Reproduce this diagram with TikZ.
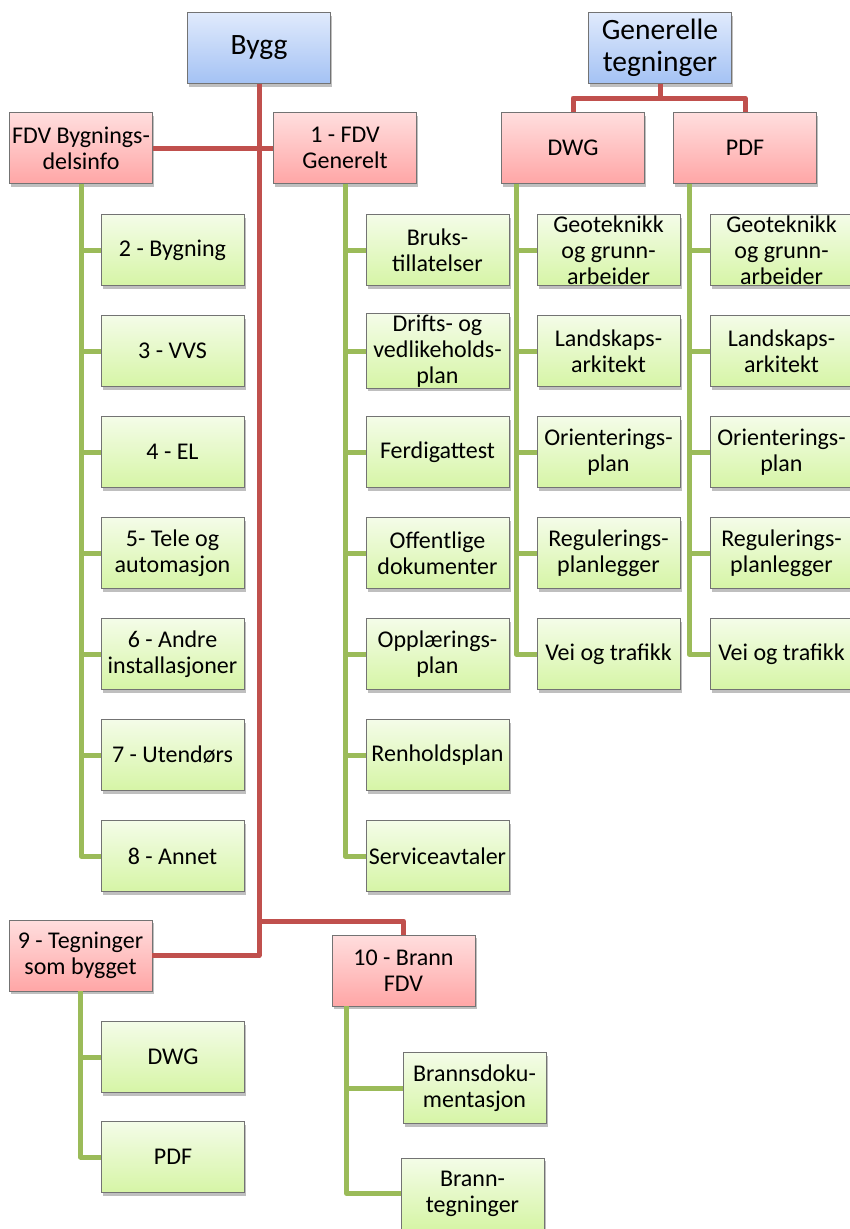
\documentclass[tikz,border=0pt]{standalone}
\usepackage{fontspec}
\setmainfont{Carlito}
\usetikzlibrary{shapes,arrows,shadows}
\definecolor{redconn}{RGB}{192,80,77}
\definecolor{greenconn}{RGB}{155,187,89}
\definecolor{blueA}{RGB}{224,234,252}
\definecolor{blueB}{RGB}{164,194,244}
\definecolor{pinkA}{RGB}{255,222,222}
\definecolor{pinkB}{RGB}{255,166,166}
\definecolor{greenA}{RGB}{244,252,232}
\definecolor{greenB}{RGB}{214,245,166}
\tikzstyle{block} = [rectangle, draw=black!55, line width=0.8pt, minimum width=143pt, minimum height=71pt, inner sep=1pt, align=center, text centered, font=\fontsize{24}{26}\selectfont, drop shadow={shadow xshift=1.5pt, shadow yshift=-3pt, fill=black, opacity=0.25}]
\tikzstyle{rootblock} = [block, top color=blueA, bottom color=blueB, font=\fontsize{29.5}{32}\selectfont]
\tikzstyle{groupblock} = [block, top color=pinkA, bottom color=pinkB]
\tikzstyle{itemblock} = [block, top color=greenA, bottom color=greenB, node distance=101pt]
\tikzstyle{redline} = [draw, redconn, line width=5pt, line join=round]
\tikzstyle{greenline} = [draw, greenconn, line width=5pt, line join=round]

\begin{document}
\begin{tikzpicture}[x=1pt, y=-1pt]
\useasboundingbox (0,0) rectangle (849,1229);

% top level
\node [rootblock] (bygg) at (259,48) {Bygg};
\node [rootblock] (gen) at (660,48) {Generelle\\tegninger};

% second level
\node [groupblock] (fdvb) at (81,148) {FDV Bygnings-\\delsinfo};
\node [groupblock] (fdv1) at (345,148) {1 - FDV\\Generelt};
\node [groupblock] (dwg) at (573,148) {DWG};
\node [groupblock] (pdf) at (745,148) {PDF};
\node [groupblock] (teg9) at (80.5,955.5) {9 - Tegninger\\som bygget};
\node [groupblock] (brann) at (403.5,970.5) {10 - Brann\\FDV};

% FDV Bygningsdelsinfo
\node [itemblock] (b2) at (172.5,250) {2 - Bygning};
\node [itemblock, below of=b2] (b3) {3 - VVS};
\node [itemblock, below of=b3] (b4) {4 - EL};
\node [itemblock, below of=b4] (b5) {5- Tele og\\automasjon};
\node [itemblock, below of=b5] (b6) {6 - Andre\\installasjoner};
\node [itemblock, below of=b6] (b7) {7 - Utendørs};
\node [itemblock, below of=b7] (b8) {8 - Annet};

% 1 - FDV Generelt
\node [itemblock] (g1) at (437.5,250) {Bruks-\\tillatelser};
\node [itemblock, below of=g1] (g2) {Drifts- og\\vedlikeholds-\\plan};
\node [itemblock, below of=g2] (g3) {Ferdigattest};
\node [itemblock, below of=g3] (g4) {Offentlige\\dokumenter};
\node [itemblock, below of=g4] (g5) {Opplærings-\\plan};
\node [itemblock, below of=g5] (g6) {Renholdsplan};
\node [itemblock, below of=g6] (g7) {Serviceavtaler};

% DWG
\node [itemblock] (d1) at (608.5,250) {Geoteknikk\\og grunn-\\arbeider};
\node [itemblock, below of=d1] (d2) {Landskaps-\\arkitekt};
\node [itemblock, below of=d2] (d3) {Orienterings-\\plan};
\node [itemblock, below of=d3] (d4) {Regulerings-\\planlegger};
\node [itemblock, below of=d4] (d5) {Vei og trafikk};

% PDF
\node [itemblock] (p1) at (781.5,250) {Geoteknikk\\og grunn-\\arbeider};
\node [itemblock, below of=p1] (p2) {Landskaps-\\arkitekt};
\node [itemblock, below of=p2] (p3) {Orienterings-\\plan};
\node [itemblock, below of=p3] (p4) {Regulerings-\\planlegger};
\node [itemblock, below of=p4] (p5) {Vei og trafikk};

% 9 - Tegninger som bygget
\node [itemblock] (t1) at (173,1057) {DWG};
\node [itemblock, below of=t1, node distance=100pt] (t2) {PDF};

% 10 - Brann FDV
\node [itemblock] (f1) at (474.5,1088) {Brannsdoku-\\mentasjon};
\node [itemblock] (f2) at (472.5,1193.5) {Brann-\\tegninger};

% red links
\coordinate (genfork) at (660,98);
\coordinate (fork) at (259,921);
\path [redline] (bygg) |- (teg9);
\path [redline] (fdvb) -- (fdv1);
\path [redline] (fork) -| (brann);
\path [redline] (gen) -- (genfork);
\path [redline] (genfork) -| (dwg);
\path [redline] (genfork) -| (pdf);

% green links
\path [greenline] (fdvb) |- (b2);
\path [greenline] (fdvb) |- (b3);
\path [greenline] (fdvb) |- (b4);
\path [greenline] (fdvb) |- (b5);
\path [greenline] (fdvb) |- (b6);
\path [greenline] (fdvb) |- (b7);
\path [greenline] (fdvb) |- (b8);

\path [greenline] (fdv1) |- (g1);
\path [greenline] (fdv1) |- (g2);
\path [greenline] (fdv1) |- (g3);
\path [greenline] (fdv1) |- (g4);
\path [greenline] (fdv1) |- (g5);
\path [greenline] (fdv1) |- (g6);
\path [greenline] (fdv1) |- (g7);

\path [greenline] ([xshift=15pt]dwg.south west) |- (d1);
\path [greenline] ([xshift=15pt]dwg.south west) |- (d2);
\path [greenline] ([xshift=15pt]dwg.south west) |- (d3);
\path [greenline] ([xshift=15pt]dwg.south west) |- (d4);
\path [greenline] ([xshift=15pt]dwg.south west) |- (d5);

\path [greenline] ([xshift=16pt]pdf.south west) |- (p1);
\path [greenline] ([xshift=16pt]pdf.south west) |- (p2);
\path [greenline] ([xshift=16pt]pdf.south west) |- (p3);
\path [greenline] ([xshift=16pt]pdf.south west) |- (p4);
\path [greenline] ([xshift=16pt]pdf.south west) |- (p5);

\path [greenline] (teg9) |- (t1);
\path [greenline] (teg9) |- (t2);

\path [greenline] ([xshift=15pt]brann.south west) |- (f1);
\path [greenline] ([xshift=15pt]brann.south west) |- (f2);

\end{tikzpicture}
\end{document}
